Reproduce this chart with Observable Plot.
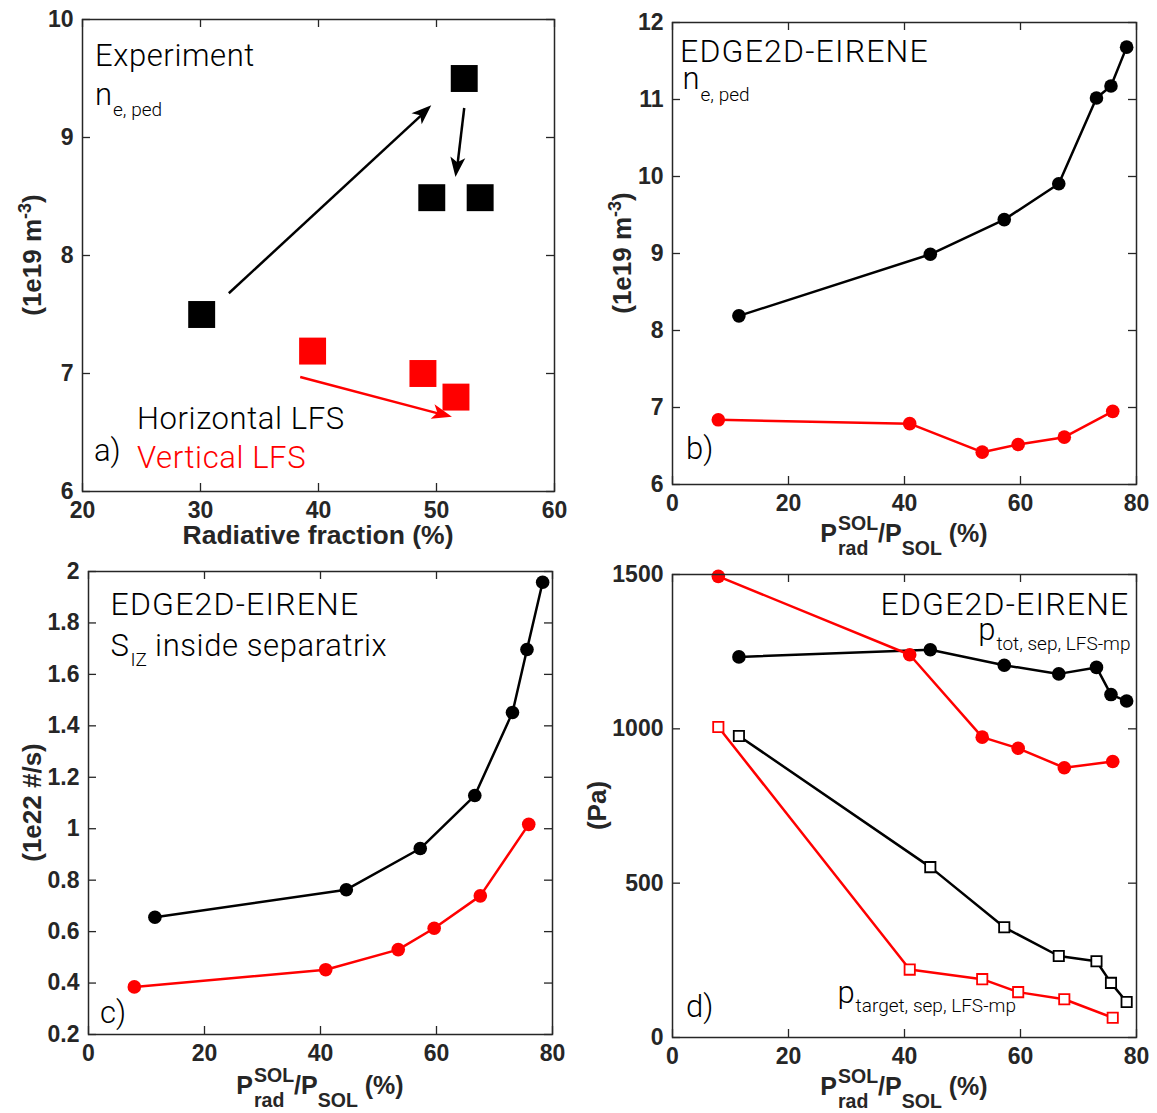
<!DOCTYPE html>
<html>
<head>
<meta charset="utf-8">
<script src="https://cdn.jsdelivr.net/npm/d3@7"></script>
<script src="https://cdn.jsdelivr.net/npm/@observablehq/plot@0.6"></script>
<style>
  html, body { margin: 0; padding: 0; background: #fff; }
  #fig { position: relative; width: 1157px; height: 1113px; background: #fff; overflow: hidden; }
  #fig svg { position: absolute; overflow: visible; }
</style>
</head>
<body>
<div id="fig"></div>
<script>
// ---------- (a) experiment: pedestal density vs radiative fraction ----------
const expHorizX = [30.1, 52.35, 49.6, 53.7];
const expHorizY = [7.5, 9.5, 8.49, 8.49];
const expVertX = [39.5, 48.85, 51.65];
const expVertY = [7.19, 7.0, 6.8];
// trend arrows (start -> tip)
const arrowX1 = [32.4, 52.35, 38.45];
const arrowY1 = [7.68, 9.25, 6.97];
const arrowX2 = [49.6, 51.65, 51.35];
const arrowY2 = [9.27, 8.66, 6.63];
const arrowColor = ["black", "black", "red"];

// ---------- EDGE2D-EIRENE scans: shared P_rad^SOL / P_SOL (%) ----------
const simXHoriz = [11.45, 44.45, 57.2, 66.6, 73.1, 75.6, 78.3];
const simXVert = [7.9, 40.9, 53.4, 59.6, 67.55, 75.9];

// (b) n_e,ped (1e19 m^-3)
const neHoriz = [8.19, 8.99, 9.44, 9.905, 11.02, 11.175, 11.68];
const neVert = [6.84, 6.79, 6.42, 6.52, 6.615, 6.95];

// (c) ionisation source inside separatrix (1e22 #/s)
const sizHoriz = [0.656, 0.763, 0.923, 1.129, 1.452, 1.697, 1.958];
const sizVert = [0.385, 0.452, 0.530, 0.613, 0.739, 1.017];

// (d) pressures (Pa)
const ptotHoriz = [1233, 1256, 1206, 1178, 1199, 1111, 1090];
const ptotVert = [1494, 1240, 973, 937, 874, 894];
const ptargetHoriz = [977, 552, 357, 264, 247, 177, 115];
const ptargetVert = [1006, 220, 189, 147, 124, 64];

// ---------- axis ticks ----------
const ticksXa = [20, 30, 40, 50, 60];
const ticksYa = [6, 7, 8, 9, 10];
const ticksXsim = [0, 20, 40, 60, 80];
const ticksYb = [6, 7, 8, 9, 10, 11, 12];
const ticksYc = [0.2, 0.4, 0.6, 0.8, 1, 1.2, 1.4, 1.6, 1.8, 2];
const ticksYd = [0, 500, 1000, 1500];

// ---------- styling ----------
const AXIS = "#262626";
const RED = "#ff0000";
const BOLD_FONT = "'Liberation Sans', Arial, Helvetica, sans-serif";
const LIGHT_FONT = "Roboto, 'Liberation Sans', Arial, sans-serif";
const fig = document.getElementById("fig");

const pts = (xs, ys) => xs.map((x, i) => ({x, y: ys[i]}));

function panel({left, top, width, height, margin, xDomain, yDomain, xTicks, yTicks, marks}) {
  const [mt, mr, mb, ml] = margin;
  const innerW = width - ml - mr, innerH = height - mt - mb;
  const tickLen = 8;
  const tickStyle = {stroke: AXIS, strokeWidth: 1.3};
  const chart = Plot.plot({
    width, height,
    marginTop: mt, marginRight: mr, marginBottom: mb, marginLeft: ml,
    style: {fontFamily: BOLD_FONT, fontSize: "23px", fontWeight: "bold", color: AXIS, background: "transparent", overflow: "visible"},
    x: {domain: xDomain, ticks: xTicks, tickSize: 0, tickPadding: 10, tickFormat: d => String(d), label: null},
    y: {domain: yDomain, ticks: yTicks, tickSize: 0, tickPadding: 9, tickFormat: d => String(d), label: null},
    marks: [
      // inward ticks on all four sides
      Plot.ruleX(xTicks, {...tickStyle, insetTop: innerH - tickLen}),
      Plot.ruleX(xTicks, {...tickStyle, insetBottom: innerH - tickLen}),
      Plot.ruleY(yTicks, {...tickStyle, insetRight: innerW - tickLen}),
      Plot.ruleY(yTicks, {...tickStyle, insetLeft: innerW - tickLen}),
      ...marks,
      Plot.frame({stroke: AXIS, strokeWidth: 1.5})
    ]
  });
  chart.style.left = left + "px";
  chart.style.top = top + "px";
  fig.append(chart);
  chart._left = left;
  chart._top = top;
  return chart;
}

// Text built from runs; a run may stack a superscript over a subscript.
function rich(chart, {x, y, anchor = "start", rotate = 0, family = LIGHT_FONT, weight = 300, fill = "#000", ls = 0, segs}) {
  const g = d3.select(chart).append("g")
    .attr("transform", `translate(${x - chart._left},${y - chart._top}) rotate(${rotate})`);
  const inner = g.append("g").attr("text-anchor", "start");
  let cx = 0;
  for (const s of segs) {
    const items = s.stack || [s];
    let w = 0;
    for (const it of items) {
      const t = inner.append("text")
        .attr("x", cx + (it.dx || 0))
        .attr("y", it.dy || 0)
        .attr("text-anchor", "start")
        .attr("font-size", it.size)
        .attr("font-family", family)
        .attr("font-weight", weight)
        .attr("letter-spacing", it.ls ?? ls)
        .attr("fill", it.fill || fill)
        .attr("xml:space", "preserve")
        .style("white-space", "pre")
        .text(it.text);
      w = Math.max(w, (it.dx || 0) + t.node().getComputedTextLength());
    }
    cx += w;
  }
  if (anchor === "middle") inner.attr("transform", `translate(${-cx / 2},0)`);
  if (anchor === "end") inner.attr("transform", `translate(${-cx},0)`);
}

function scaleFn(chart, name) {
  const s = chart.scale(name);
  return s.apply ? (v => s.apply(v)) : d3.scaleLinear(s.domain, s.range);
}

// Filled, notched arrow heads placed through the chart's scales.
function arrowHeads(chart, x1s, y1s, x2s, y2s, colors) {
  const sx = scaleFn(chart, "x"), sy = scaleFn(chart, "y");
  const L = 20, W = 7.5, N = 5;
  const g = d3.select(chart).append("g");
  x1s.forEach((_, i) => {
    const ax = sx(x1s[i]), ay = sy(y1s[i]), bx = sx(x2s[i]), by = sy(y2s[i]);
    const ang = Math.atan2(by - ay, bx - ax) * 180 / Math.PI;
    g.append("path")
      .attr("d", `M0,0 L${-L},${-W} L${-L + N},0 L${-L},${W} Z`)
      .attr("transform", `translate(${bx},${by}) rotate(${ang})`)
      .attr("fill", colors[i]);
  });
}

const sub = 19;
const big = 31;
const LS = 0.6;
const TITLE = {size: 32, ls: 1.2};

// ---------- (a) ----------
const arrowRows = arrowX1.map((x1, i) => ({x1, y1: arrowY1[i], x2: arrowX2[i], y2: arrowY2[i], c: arrowColor[i]}));
const chartA = panel({
  left: 0, top: 0, width: 578, height: 556, margin: [19, 24, 65, 82],
  xDomain: [20, 60], yDomain: [6, 10], xTicks: ticksXa, yTicks: ticksYa,
  marks: [
    Plot.arrow(arrowRows, {x1: "x1", y1: "y1", x2: "x2", y2: "y2", stroke: d => d.c === "red" ? RED : "#000",
      strokeWidth: 2.5, headLength: 0, insetEnd: 10, strokeLinecap: "butt"}),
    Plot.dot(pts(expHorizX, expHorizY), {x: "x", y: "y", symbol: "square", r: 15.2, fill: "#000", stroke: "none"}),
    Plot.dot(pts(expVertX, expVertY), {x: "x", y: "y", symbol: "square", r: 15.2, fill: RED, stroke: "none"})
  ]
});
arrowHeads(chartA, arrowX1, arrowY1, arrowX2, arrowY2, arrowColor.map(c => c === "red" ? RED : "#000"));
rich(chartA, {x: 95, y: 65.5, ls: LS, segs: [{text: "Experiment", size: big}]});
rich(chartA, {x: 95, y: 104.5, segs: [{text: "n", size: big}, {text: "e, ped", size: sub, dy: 11, dx: 1}]});
rich(chartA, {x: 137, y: 429, ls: LS, segs: [{text: "Horizontal LFS", size: big}]});
rich(chartA, {x: 137, y: 468, ls: LS, fill: RED, segs: [{text: "Vertical LFS", size: big}]});
rich(chartA, {x: 94, y: 461, segs: [{text: "a)", size: big}]});
rich(chartA, {x: 318, y: 543.7, anchor: "middle", family: BOLD_FONT, weight: "bold", fill: AXIS,
  segs: [{text: "Radiative fraction (%)", size: 26.5}]});
rich(chartA, {x: 40.5, y: 255, anchor: "middle", rotate: -90, family: BOLD_FONT, weight: "bold", fill: AXIS,
  segs: [{text: "(1e19 m", size: 26}, {text: "-3", size: 18, dy: -10}, {text: ")", size: 26}]});

// shared x label P_rad^SOL / P_SOL (%)
function prLabel(chart, cx, baseline) {
  rich(chart, {x: cx, y: baseline, anchor: "middle", family: BOLD_FONT, weight: "bold", fill: AXIS,
    segs: [
      {text: "P", size: 25},
      {stack: [{text: "SOL", size: 19.5, dy: -12, dx: 1}, {text: "rad", size: 19.5, dy: 13, dx: 1}]},
      {text: "/P", size: 25},
      {text: "SOL", size: 19.5, dy: 13},
      {text: " (%)", size: 25}
    ]});
}

// ---------- (b) ----------
const chartB = panel({
  left: 578, top: 0, width: 579, height: 556, margin: [22, 21, 72, 94],
  xDomain: [0, 80], yDomain: [6, 12], xTicks: ticksXsim, yTicks: ticksYb,
  marks: [
    Plot.line(pts(simXHoriz, neHoriz), {x: "x", y: "y", stroke: "#000", strokeWidth: 2.5}),
    Plot.line(pts(simXVert, neVert), {x: "x", y: "y", stroke: RED, strokeWidth: 2.5}),
    Plot.dot(pts(simXHoriz, neHoriz), {x: "x", y: "y", r: 6.8, fill: "#000", stroke: "none"}),
    Plot.dot(pts(simXVert, neVert), {x: "x", y: "y", r: 6.8, fill: RED, stroke: "none"})
  ]
});
rich(chartB, {x: 680, y: 61.5, ls: TITLE.ls, segs: [{text: "EDGE2D-EIRENE", size: TITLE.size}]});
rich(chartB, {x: 682.5, y: 89, segs: [{text: "n", size: big}, {text: "e, ped", size: sub, dy: 12, dx: 1}]});
rich(chartB, {x: 686, y: 458.5, segs: [{text: "b)", size: big}]});
prLabel(chartB, 904, 542);
rich(chartB, {x: 631, y: 253, anchor: "middle", rotate: -90, family: BOLD_FONT, weight: "bold", fill: AXIS,
  segs: [{text: "(1e19 m", size: 26}, {text: "-3", size: 18, dy: -10}, {text: ")", size: 26}]});

// ---------- (c) ----------
const chartC = panel({
  left: 0, top: 556, width: 578, height: 557, margin: [15, 26, 79, 88],
  xDomain: [0, 80], yDomain: [0.2, 2], xTicks: ticksXsim, yTicks: ticksYc,
  marks: [
    Plot.line(pts(simXHoriz, sizHoriz), {x: "x", y: "y", stroke: "#000", strokeWidth: 2.5}),
    Plot.line(pts(simXVert, sizVert), {x: "x", y: "y", stroke: RED, strokeWidth: 2.5}),
    Plot.dot(pts(simXHoriz, sizHoriz), {x: "x", y: "y", r: 6.8, fill: "#000", stroke: "none"}),
    Plot.dot(pts(simXVert, sizVert), {x: "x", y: "y", r: 6.8, fill: RED, stroke: "none"})
  ]
});
rich(chartC, {x: 110.5, y: 615, ls: TITLE.ls, segs: [{text: "EDGE2D-EIRENE", size: TITLE.size}]});
rich(chartC, {x: 110.5, y: 655.7, ls: LS, segs: [{text: "S", size: big}, {text: "IZ", size: sub, dy: 10, dx: 1, ls: 0}, {text: " inside separatrix", size: big}]});
rich(chartC, {x: 100, y: 1022.5, segs: [{text: "c)", size: big}]});
prLabel(chartC, 320, 1093.7);
rich(chartC, {x: 40.5, y: 802.5, anchor: "middle", rotate: -90, family: BOLD_FONT, weight: "bold", fill: AXIS,
  segs: [{text: "(1e22 #/s)", size: 26}]});

// ---------- (d) ----------
const chartD = panel({
  left: 578, top: 556, width: 579, height: 557, margin: [18, 21, 76, 94],
  xDomain: [0, 80], yDomain: [0, 1500], xTicks: ticksXsim, yTicks: ticksYd,
  marks: [
    Plot.line(pts(simXHoriz, ptotHoriz), {x: "x", y: "y", stroke: "#000", strokeWidth: 2.5}),
    Plot.line(pts(simXVert, ptotVert), {x: "x", y: "y", stroke: RED, strokeWidth: 2.5}),
    Plot.line(pts(simXHoriz, ptargetHoriz), {x: "x", y: "y", stroke: "#000", strokeWidth: 2.5}),
    Plot.line(pts(simXVert, ptargetVert), {x: "x", y: "y", stroke: RED, strokeWidth: 2.5}),
    Plot.dot(pts(simXHoriz, ptotHoriz), {x: "x", y: "y", r: 6.8, fill: "#000", stroke: "none"}),
    Plot.dot(pts(simXVert, ptotVert), {x: "x", y: "y", r: 6.8, fill: RED, stroke: "none"}),
    Plot.dot(pts(simXHoriz, ptargetHoriz), {x: "x", y: "y", symbol: "square", r: 5.8, fill: "#fff", stroke: "#000", strokeWidth: 1.8}),
    Plot.dot(pts(simXVert, ptargetVert), {x: "x", y: "y", symbol: "square", r: 5.8, fill: "#fff", stroke: RED, strokeWidth: 1.8})
  ]
});
rich(chartD, {x: 1129.5, y: 614.5, anchor: "end", ls: TITLE.ls, segs: [{text: "EDGE2D-EIRENE", size: TITLE.size}]});
rich(chartD, {x: 1130.5, y: 640, anchor: "end", segs: [{text: "p", size: big}, {text: "tot, sep, LFS-mp", size: sub, dy: 10, dx: 1}]});
rich(chartD, {x: 837.4, y: 1003, segs: [{text: "p", size: big}, {text: "target, sep, LFS-mp", size: sub, dy: 9, dx: 1}]});
rich(chartD, {x: 686, y: 1017, segs: [{text: "d)", size: big}]});
prLabel(chartD, 904, 1094.5);
rich(chartD, {x: 605.5, y: 805.5, anchor: "middle", rotate: -90, family: BOLD_FONT, weight: "bold", fill: AXIS,
  segs: [{text: "(Pa)", size: 26}]});
</script>
</body>
</html>
